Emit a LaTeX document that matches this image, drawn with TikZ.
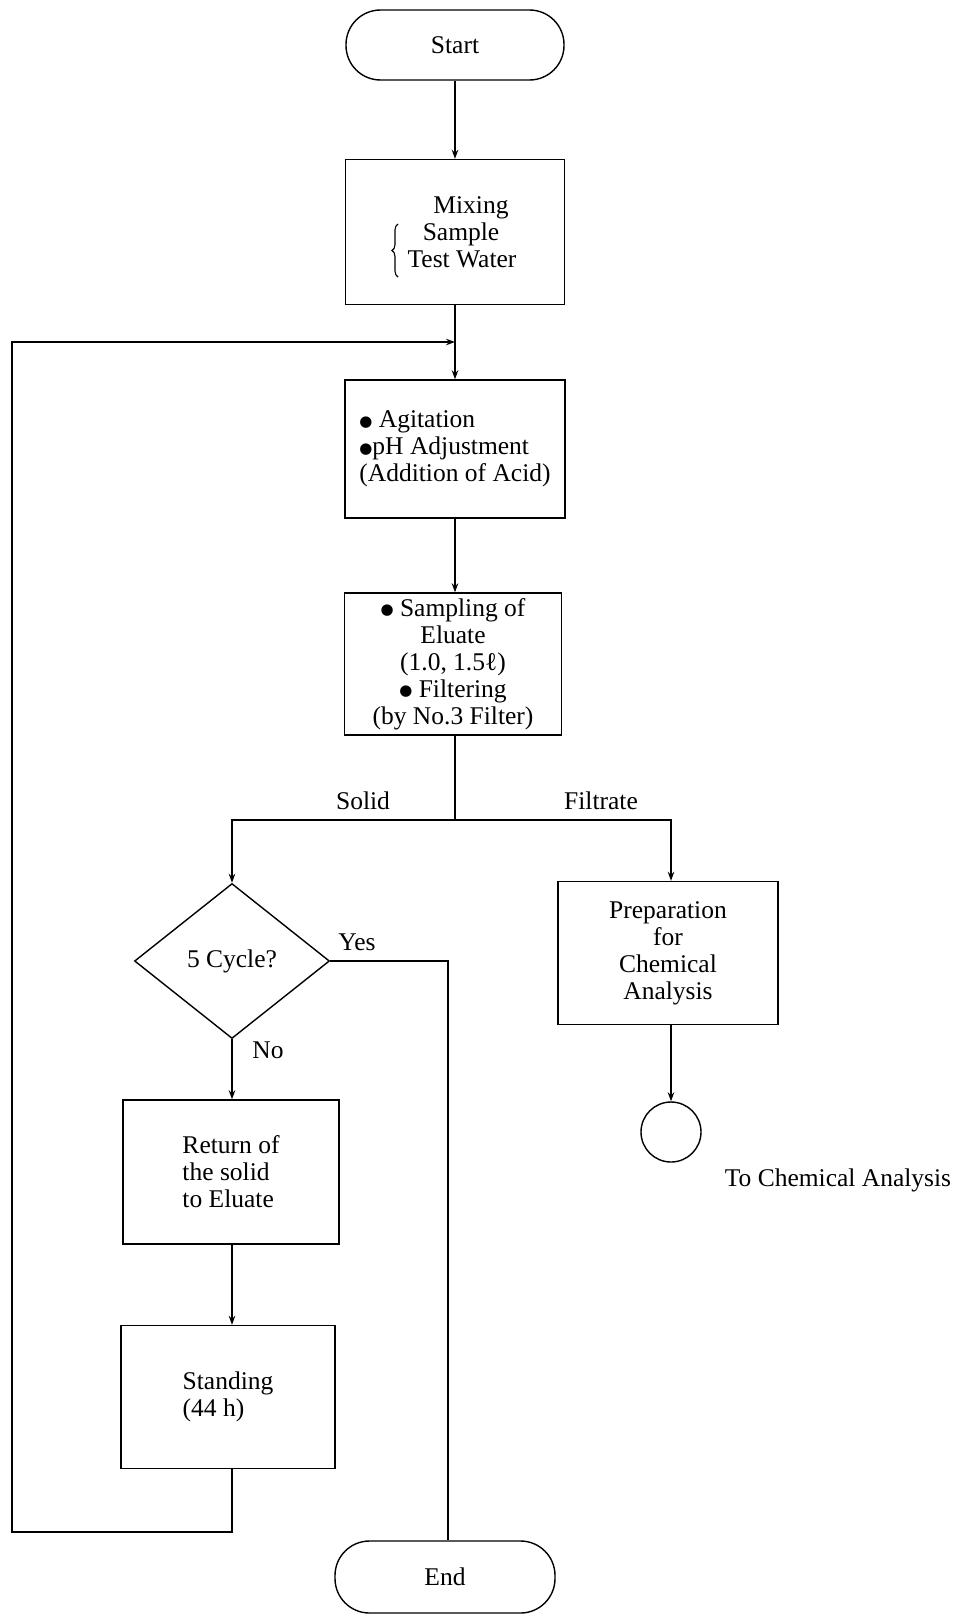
\documentclass[tikz,border=0pt]{standalone}
\usepackage{fontspec}
\setmainfont{Liberation Serif}
\newfontfamily\symf{DejaVu Sans}
\usetikzlibrary{shapes.geometric,arrows.meta,decorations.pathreplacing}
\newcommand\bul{\raisebox{1.5pt}{\symf\fontsize{15}{15}\selectfont ●}}
\begin{document}
\begin{tikzpicture}[x=1pt,y=1pt,
  font=\fontsize{25.5}{27}\selectfont,
  line width=1.4pt,
  >={Stealth[length=9pt,width=6.5pt]},
  box/.style={draw, rectangle, inner sep=0pt, align=center},
  term/.style={draw, rectangle, rounded corners=34.5pt, inner sep=0pt},
  decision/.style={draw, diamond, aspect=1.26, inner sep=0pt},
  lbl/.style={inner sep=0pt},
  bracedeco/.style={decorate, decoration={brace, amplitude=6pt}, line width=1.1pt}]
\useasboundingbox (0,0) rectangle (961,-1614);

\node[term, minimum width=218pt, minimum height=70pt] (start) at (455,-45) {Start};
\node[box, minimum width=219pt, minimum height=145pt] (mix) at (455,-232)
  {\hspace*{32pt}Mixing\\\hspace*{12pt}Sample\\\hspace*{14pt}Test Water};
\node[box, align=left, minimum width=220pt, minimum height=138pt] (agit) at (455,-449)
  {\bul\ Agitation\\\bul pH Adjustment\\(Addition of Acid)};
\node[box, minimum width=217pt, minimum height=142pt] (samp) at (453,-664)
  {\bul\ Sampling of\\Eluate\\(1.0, 1.5ℓ)\\\bul\ Filtering\\(by No.3 Filter)};
\node[decision, minimum width=195pt, minimum height=155pt] (dec) at (232,-961) {5 Cycle?};
\node[box, minimum width=220pt, minimum height=143pt] (prep) at (668,-953)
  {Preparation\\for\\Chemical\\Analysis};
\node[draw, circle, minimum size=60pt, inner sep=0pt] (circ) at (671,-1132) {};
\node[box, align=left, minimum width=216pt, minimum height=144pt] (ret) at (231,-1172)
  {Return of\\the solid\\to Eluate};
\node[box, align=left, minimum width=214pt, minimum height=143pt] (stand) at (228,-1397)
  {Standing\\(44 h)};
\node[term, minimum width=220pt, minimum height=72pt] (end) at (445,-1577) {End};

\node[lbl] (solid) at (363,-801) {Solid};
\node[lbl] (filt) at (601,-801) {Filtrate};
\node[lbl] (yes) at (357,-942) {Yes};
\node[lbl] (no) at (268,-1050) {No};
\node[lbl] (tochem) at (838,-1180) {To Chemical Analysis};

\coordinate (bra) at (398,-277);
\coordinate (brb) at (398,-224);
\draw[bracedeco] (bra) -- (brb);

\coordinate (j) at (455,-820);
\coordinate (jl) at (232,-820);
\coordinate (jr) at (671,-820);
\coordinate (yc) at (448,-961);
\coordinate (lb) at (232,-1532);
\coordinate (ll) at (12,-1532);
\coordinate (lt) at (12,-342);
\coordinate (lm) at (455,-342);

\draw[->] (start) -- (mix);
\draw[->] (mix) -- (agit);
\draw[->] (agit) -- (samp.north -| agit);
\draw (samp.south -| j) -- (j);
\draw[->] (j) -- (jl) -- (dec.north);
\draw[->] (j) -- (jr) -- (jr |- prep.north);
\draw[->] (circ |- prep.south) -- (circ);
\draw[->] (dec.south) -- (dec.south |- ret.north);
\draw[->] (lb |- ret.south) -- (lb |- stand.north);
\draw[->] (lb |- stand.south) -- (lb) -- (ll) -- (lt) -- (lm);
\draw (dec.east) -- (yc) -- (yc |- end.north);
\end{tikzpicture}
\end{document}
